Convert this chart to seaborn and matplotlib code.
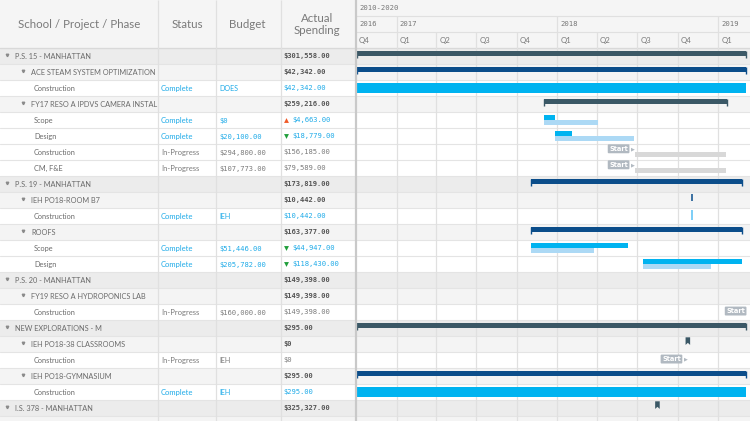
import numpy as np
import pandas as pd
import matplotlib
matplotlib.use("Agg")
import matplotlib.pyplot as plt
import matplotlib.dates as mdates
from matplotlib.path import Path
from matplotlib.patches import Rectangle
import seaborn as sns

# ===== DATA =====
names = ["P.S. 15 - MANHATTAN", "ACE STEAM SYSTEM OPTIMIZATION", "Construction",
         "FY17 RESO A IPDVS CAMERA INSTAL", "Scope", "Design", "Construction", "CM, F&E",
         "P.S. 19 - MANHATTAN", "IEH PO18-ROOM B7", "Construction", "ROOFS", "Scope", "Design",
         "P.S. 20 - MANHATTAN", "FY19 RESO A HYDROPONICS LAB", "Construction",
         "NEW EXPLORATIONS - M", "IEH PO18-38 CLASSROOMS", "Construction",
         "IEH PO18-GYMNASIUM", "Construction", "I.S. 378 - MANHATTAN"]
levels = [0, 1, 2, 1, 2, 2, 2, 2, 0, 1, 2, 1, 2, 2, 0, 1, 2, 0, 1, 2, 1, 2, 0]
status = ["", "", "Complete", "", "Complete", "Complete", "In-Progress", "In-Progress",
          "", "", "Complete", "", "Complete", "Complete", "", "", "In-Progress",
          "", "", "In-Progress", "", "Complete", ""]
budget = ["", "", "DOES", "", "$0", "$20,100.00", "$294,800.00", "$107,773.00",
          "", "", "IEH", "", "$51,446.00", "$205,782.00", "", "", "$160,000.00",
          "", "", "IEH", "", "IEH", ""]
actual = ["$301,558.00", "$42,342.00", "$42,342.00", "$259,216.00", "$4,663.00", "$18,779.00",
          "$156,185.00", "$79,589.00", "$173,819.00", "$10,442.00", "$10,442.00", "$163,377.00",
          "$44,947.00", "$118,430.00", "$149,398.00", "$149,398.00", "$149,398.00", "$295.00",
          "$0", "$0", "$295.00", "$295.00", "$325,327.00"]
trend = ["", "", "", "", "up", "down", "", "", "", "", "", "", "down", "down",
         "", "", "", "", "", "", "", "", ""]

# summary bars (school / project)
sum_rows = [0, 1, 3, 8, 11, 17, 20]
sum_start = ["2016-10-03", "2016-10-03", "2017-12-02", "2017-11-02", "2017-11-02", "2016-10-03", "2016-10-03"]
sum_end = ["2019-03-05", "2019-03-05", "2019-01-21", "2019-02-24", "2019-02-24", "2019-03-05", "2019-03-05"]
sum_done = [False, True, False, True, True, False, True]

# phases: actual and planned
act_rows = [2, 4, 5, 12, 13, 21]
act_start = ["2016-10-03", "2017-12-02", "2017-12-27", "2017-11-02", "2018-07-14", "2016-10-03"]
act_end = ["2019-03-05", "2017-12-27", "2018-02-03", "2018-06-11", "2019-02-24", "2019-03-05"]
plan_rows = [4, 5, 12, 13]
plan_start = ["2017-12-02", "2017-12-27", "2017-11-02", "2018-07-14"]
plan_end = ["2018-04-03", "2018-06-24", "2018-03-25", "2018-12-15"]

# not started yet
wait_rows = [6, 7]
wait_start = ["2018-06-26", "2018-06-26"]
wait_end = ["2019-01-18", "2019-01-18"]
start_rows = [6, 7, 16, 19]
start_dates = ["2018-06-26", "2018-06-26", "2019-04-01", "2018-10-24"]

# milestones
ms_rows = [9, 10]
ms_dates = ["2018-11-02", "2018-11-02"]
flag_rows = [18, 22]
flag_dates = ["2018-10-24", "2018-08-16"]

years = ["2016", "2017", "2018", "2019"]
year_starts = ["2016-10-01", "2017-01-01", "2018-01-01", "2019-01-01"]
quarters = pd.date_range("2016-10-01", "2019-01-01", freq="QS")

# ===== STYLE =====
sns.set_theme(style="white")
plt.rcParams['font.family'] = ['Lato', 'DejaVu Sans']
MONO = "DejaVu Sans Mono"

SLATE = "#3b5866"
NAVY = "#0b4d8a"
CYAN = "#00b3f0"
LIGHT = "#acd9f5"
GREY = "#d8d8d8"
TAG = "#b1b9c1"
TXT = "#6a6a6a"
BLUE_TXT = "#1daae8"
BG = {0: "#ececec", 1: "#f4f4f4", 2: "#ffffff"}

n = len(names)
ytop = -3.5
ybot = ytop + 421 / 16

d0 = pd.Timestamp("2016-10-01")
x0 = mdates.date2num(d0)
x1 = x0 + 394 / 0.4407


def dn(s):
    return mdates.date2num(pd.Timestamp(s))


fig = plt.figure(figsize=(7.5, 4.21), dpi=100)
fig.patch.set_facecolor("white")
tab = fig.add_axes([0, 0, 355 / 750, 1])
gan = fig.add_axes([356 / 750, 0, 394 / 750, 1])

for ax in (tab, gan):
    ax.set_ylim(ybot, ytop)
    ax.set_axis_off()
    ax.axhspan(ytop, -0.5, color="#f5f5f5", zorder=0)
    for i, lv in enumerate(levels):
        ax.axhspan(i - 0.5, i + 0.5, color=BG[lv], zorder=0, lw=0)
    ax.axhspan(n - 0.5, ybot, color=BG[1], zorder=0, lw=0)
    for i in range(-1, n + 1):
        ax.axhline(i + 0.5, color="#e4e4e4", lw=0.8, zorder=1)
    ax.axhline(-0.5, color="#d9d9d9", lw=0.9, zorder=1)

tab.set_xlim(0, 355)
gan.set_xlim(x0, x1)

# ===== TABLE =====
tab.vlines([157.5, 215.5, 280.5], ytop, ybot, color="#e0e0e0", lw=0.9, zorder=2)
hdr = dict(ha="center", va="center", fontsize=8.3, color="#7a7a7a")
tab.text(79, -2, "School / Project / Phase", **hdr)
tab.text(187, -2, "Status", **hdr)
tab.text(247, -2, "Budget", **hdr)
tab.text(317, -1.95, "Actual\nSpending", linespacing=1.15, **hdr)

clip = Rectangle((0, ytop), 156, 40, transform=tab.transData)
for i in range(n):
    lv = levels[i]
    if lv < 2:
        tab.plot(7 + 16 * lv, i - 0.05, marker="v", ms=1.8, color="#8a8a8a", zorder=3)
    t = tab.text([15, 31, 34][lv], i + 0.05, names[i], ha="left", va="center",
                 fontsize=5.35, color=TXT, zorder=3)
    t.set_clip_path(clip)

    done = status[i] == "Complete"
    col = BLUE_TXT if done else "#7a7a7a"
    if status[i]:
        tab.text(161, i + 0.05, status[i], ha="left", va="center", fontsize=5.5, color=col, zorder=3)
    if budget[i]:
        fam = MONO if budget[i].startswith("$") else None
        tab.text(219, i + 0.05, budget[i], ha="left", va="center", fontsize=5.1,
                 color=col, family=fam, zorder=3)
    if lv < 2:
        tab.text(283, i + 0.02, actual[i], ha="left", va="center", fontsize=5.1,
                 color="#555555", family=MONO, fontweight="bold", zorder=3)
    else:
        xa = 283
        if trend[i] == "up":
            tab.plot(286, i, marker="^", ms=3.5, color="#f05a28", mew=0, zorder=3)
            xa = 292
        elif trend[i] == "down":
            tab.plot(286, i, marker="v", ms=3.5, color="#1f9e3a", mew=0, zorder=3)
            xa = 292
        tab.text(xa, i + 0.02, actual[i], ha="left", va="center", fontsize=5.1,
                 color=col, family=MONO, zorder=3)

fig.add_artist(plt.Line2D([355.5 / 750] * 2, [0, 1], color="#c9c9c9", lw=1.6))

# ===== GANTT HEADER =====
qx = [mdates.date2num(q) for q in quarters]
gan.axhline(-2.5, color="#e0e0e0", lw=0.8, zorder=1)
gan.axhline(-1.5, color="#e0e0e0", lw=0.8, zorder=1)
gan.vlines(qx[1:], -1.5, ybot, color="#e0e0e0", lw=0.9, zorder=1)
gan.vlines([dn(s) for s in year_starts[1:]], -2.5, -1.5, color="#e0e0e0", lw=0.9, zorder=1)
gan.annotate("2010-2020", (x0, -3), xytext=(3, 0), textcoords="offset pixels",
             ha="left", va="center", fontsize=5.2, color="#777777", family=MONO)
for y, s in zip(years, year_starts):
    gan.annotate(y, (dn(s), -2), xytext=(3, 0), textcoords="offset pixels",
                 ha="left", va="center", fontsize=5.2, color="#777777", family=MONO)
for q in quarters:
    gan.annotate(f"Q{q.quarter}", (mdates.date2num(q), -1), xytext=(3, 0),
                 textcoords="offset pixels", ha="left", va="center", fontsize=5.6, color="#777777")

# ===== GANTT BARS =====
for r, s, e, ok in zip(sum_rows, sum_start, sum_end, sum_done):
    c = NAVY if ok else SLATE
    a, b = dn(s), dn(e)
    gan.barh(r - 0.15, b - a, left=a, height=0.3, color=c, lw=0, zorder=3)
    gan.vlines([a + 0.6, b - 0.6], r - 0.3, r + 0.1, color=c, lw=1.0, zorder=3)

for r, s, e in zip(act_rows, act_start, act_end):
    a, b = dn(s), dn(e)
    if r in plan_rows:
        gan.barh(r - 0.15, b - a, left=a, height=0.3, color=CYAN, lw=0, zorder=3)
    else:
        gan.barh(r, b - a, left=a, height=0.6, color=CYAN, lw=0, zorder=3)
for r, s, e in zip(plan_rows, plan_start, plan_end):
    a, b = dn(s), dn(e)
    gan.barh(r + 0.15, b - a, left=a, height=0.3, color=LIGHT, lw=0, zorder=3)

for r, s, e in zip(wait_rows, wait_start, wait_end):
    a, b = dn(s), dn(e)
    gan.barh(r + 0.15, b - a, left=a, height=0.28, color=GREY, lw=0, zorder=3)

tag_box = dict(boxstyle="round,pad=0.22,rounding_size=0.15", fc=TAG, ec="none")
for r, s in zip(start_rows, start_dates):
    a = dn(s)
    yy = r - 0.2 if r in wait_rows else r - 0.06
    if a < x1:
        gan.annotate("Start", (a, yy), xytext=(-7, 0), textcoords="offset pixels",
                     ha="right", va="center", fontsize=4.8, color="white",
                     fontweight="bold", family="DejaVu Sans", bbox=tag_box, zorder=4)
        gan.annotate("\u25B6", (a, yy), xytext=(-2, 0), textcoords="offset pixels",
                     ha="center", va="center", fontsize=3.6, color=TAG,
                     family="DejaVu Sans", zorder=4)
    else:
        gan.annotate("Start", (x1, yy), xytext=(-5, 0), textcoords="offset pixels",
                     ha="right", va="center", fontsize=4.8, color="white",
                     fontweight="bold", family="DejaVu Sans", bbox=tag_box, zorder=4)

gan.barh(ms_rows[0] - 0.15, 5, left=dn(ms_dates[0]) - 2.5, height=0.45, color="#3f73a3", lw=0, zorder=3)
gan.barh(ms_rows[1] - 0.05, 5, left=dn(ms_dates[1]) - 2.5, height=0.6, color="#7fcff7", lw=0, zorder=3)

flag = Path([(-0.6, 1), (0.6, 1), (0.6, -1), (0, -0.45), (-0.6, -1), (-0.6, 1)],
            [Path.MOVETO, Path.LINETO, Path.LINETO, Path.LINETO, Path.LINETO, Path.CLOSEPOLY])
fl = pd.DataFrame({"x": [dn(s) for s in flag_dates], "y": [r - 0.18 for r in flag_rows]})
sns.scatterplot(data=fl, x="x", y="y", marker=flag, s=30, color=SLATE, edgecolor="none",
                ax=gan, zorder=4, legend=False)
gan.set_xlim(x0, x1)
gan.set_ylim(ybot, ytop)
gan.set_axis_off()

fig.savefig("out.png", dpi=100)
